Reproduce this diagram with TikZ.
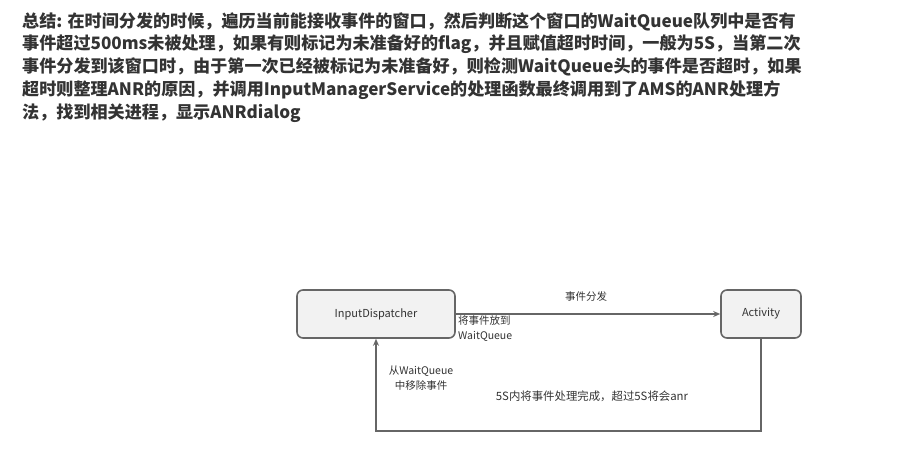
\documentclass[tikz,border=0pt]{standalone}
\usepackage{fontspec}
\setmainfont{Noto Sans CJK SC}
\usetikzlibrary{arrows.meta}
\definecolor{boxborder}{HTML}{666666}
\definecolor{boxfill}{HTML}{F2F2F2}
\definecolor{txt}{HTML}{333333}
\begin{document}
\begin{tikzpicture}[x=1pt,y=-1pt,
  stepbox/.style={draw=boxborder,fill=boxfill,line width=1.6pt,rounded corners=6pt,text=txt,font=\fontsize{11}{13}\selectfont,inner sep=0pt},
  conn/.style={draw=boxborder,line width=1.4pt},
  tip/.style={-{Stealth[length=7pt,width=6pt]}},
  lbl/.style={text=txt,font=\fontsize{10.5}{13}\selectfont,inner sep=0pt}]
\useasboundingbox (0,0) rectangle (899,456);
\node[anchor=north west,align=left,inner sep=0pt,text=txt,font=\fontsize{17.1}{22.8}\selectfont\bfseries] (title) at (22,12)
{总结: 在时间分发的时候，遍历当前能接收事件的窗口，然后判断这个窗口的WaitQueue队列中是否有\\
事件超过500ms未被处理，如果有则标记为未准备好的flag，并且赋值超时时间，一般为5S，当第二次\\
事件分发到该窗口时，由于第一次已经被标记为未准备好，则检测WaitQueue头的事件是否超时，如果\\
超时则整理ANR的原因，并调用InputManagerService的处理函数最终调用到了AMS的ANR处理方\\
法，找到相关进程，显示ANRdialog};
\node[stepbox,minimum width=158pt,minimum height=48pt] (disp) at (376,314) {InputDispatcher};
\node[stepbox,minimum width=80pt,minimum height=48pt] (act) at (761,314) {Activity};
\coordinate (c1) at (761,431);
\coordinate (c2) at (376,431);
\draw[conn,tip] (disp.east) -- (act.west);
\draw[conn,tip] (act.south) -- (c1) -- (c2) -- (disp.south);
\node[lbl] (l1) at (586,296) {事件分发};
\node[lbl,anchor=west,align=left,font=\fontsize{10.5}{15}\selectfont] (l2) at (458,329) {将事件放到\\WaitQueue};
\node[lbl,align=center,font=\fontsize{10.5}{15}\selectfont] (l3) at (421,378) {从WaitQueue\\中移除事件};
\node[lbl,font=\fontsize{11.4}{13}\selectfont] (l4) at (592,396) {5S内将事件处理完成，超过5S将会anr};
\end{tikzpicture}
\end{document}
